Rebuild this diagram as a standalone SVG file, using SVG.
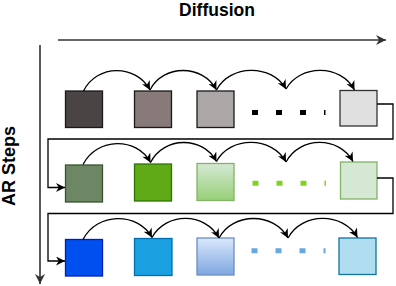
<svg xmlns="http://www.w3.org/2000/svg" width="396" height="286" viewBox="0 0 396 286">
<style>
.lbl{font-family:"Liberation Sans",Arial,sans-serif;font-weight:bold;font-size:18px;fill:#000}
.box{stroke-width:1.3}
.arc{fill:none;stroke:#000;stroke-width:1.3}
.dots{fill:none;stroke-width:5;stroke-dasharray:6 18}
</style>
<defs>
<marker id="ah" viewBox="0 0 10 10" refX="10" refY="5" markerWidth="10" markerHeight="9" orient="auto" markerUnits="userSpaceOnUse">
<path d="M0,0 L10,5 L0,10 L3,5 Z" fill="#000"/>
</marker>
<marker id="ahg" viewBox="0 0 10 10" refX="10" refY="5" markerWidth="11" markerHeight="10" orient="auto" markerUnits="userSpaceOnUse">
<path d="M0,0 L10,5 L0,10 L3,5 Z" fill="#333"/>
</marker>
<linearGradient id="gGreen" x1="0" y1="0" x2="0" y2="1">
<stop offset="0" stop-color="#d5e8d4"/>
<stop offset="1" stop-color="#97d077"/>
</linearGradient>
<linearGradient id="gBlue" x1="0" y1="0" x2="0" y2="1">
<stop offset="0" stop-color="#dae8fc"/>
<stop offset="1" stop-color="#7ea6e0"/>
</linearGradient>
</defs>

<text class="lbl" x="217" y="16" text-anchor="middle" style="font-size:17.5px">Diffusion</text>
<text class="lbl" transform="translate(15,166) rotate(-90)" text-anchor="middle">AR Steps</text>

<g id="axes">
<line x1="58" y1="40" x2="386" y2="40" stroke="#333" stroke-width="1.3" marker-end="url(#ahg)"/>
<line x1="40" y1="45" x2="40" y2="284" stroke="#000" stroke-width="1.3" marker-end="url(#ahg)"/>
</g>

<g id="r1c1"><rect class="box" x="65.5" y="91" width="37" height="36.5" fill="#4a4444" stroke="#1a1a1a"/></g>
<g id="r1c2"><rect class="box" x="134.5" y="91" width="37" height="36.5" fill="#877a78" stroke="#1a1a1a"/></g>
<g id="r1c3"><rect class="box" x="197" y="91" width="37" height="36.5" fill="#aba7a6" stroke="#1a1a1a"/></g>
<g id="r1dots"><line class="dots" x1="252" y1="112.5" x2="325.5" y2="112.5" stroke="#000"/></g>
<g id="r1c4"><rect class="box" x="340" y="90.5" width="37" height="35.5" fill="#e0e0e0" stroke="#333"/></g>

<g id="r2c1"><rect class="box" x="65.5" y="165" width="37" height="37" fill="#6d8764" stroke="#3a5431"/></g>
<g id="r2c2"><rect class="box" x="134.5" y="164" width="37" height="37" fill="#60a917" stroke="#2d7600"/></g>
<g id="r2c3"><rect class="box" x="197" y="163.5" width="37" height="37" fill="url(#gGreen)" stroke="#82b366"/></g>
<g id="r2dots"><line class="dots" x1="252.5" y1="183.3" x2="326" y2="183.3" stroke="#7ed321"/></g>
<g id="r2c4"><rect class="box" x="340.5" y="162" width="36.5" height="37" fill="#d5e8d4" stroke="#82b366"/></g>

<g id="r3c1"><rect class="box" x="65.5" y="239.5" width="37" height="36.5" fill="#0050ef" stroke="#001dbc"/></g>
<g id="r3c2"><rect class="box" x="134.5" y="238.5" width="37.5" height="37" fill="#1ba1e2" stroke="#006eaf"/></g>
<g id="r3c3"><rect class="box" x="197" y="238" width="37" height="37" fill="url(#gBlue)" stroke="#6c8ebf"/></g>
<g id="r3dots"><line class="dots" x1="251.5" y1="250.8" x2="325.5" y2="250.8" stroke="#66a8e2"/></g>
<g id="r3c4"><rect class="box" x="339" y="238" width="37" height="36.5" fill="#b1ddf0" stroke="#10739e"/></g>

<g id="connectors">
<path class="arc" d="M83.5,91 C97,64 136,64 150,90" marker-end="url(#ah)"/>
<path class="arc" d="M150,90 C163,64 203,64 216.5,90" marker-end="url(#ah)"/>
<path class="arc" d="M216.5,90 C230,64 272,64 286,89" marker-end="url(#ah)"/>
<path class="arc" d="M286,89 C300,64 341,64 354.5,90" marker-end="url(#ah)"/>

<path class="arc" d="M83,164.5 C97,137 137,137 150.5,162.5" marker-end="url(#ah)"/>
<path class="arc" d="M150.5,162.5 C164,136 203,136 216.5,161.5" marker-end="url(#ah)"/>
<path class="arc" d="M216.5,161.5 C230,136 272,136 286,162" marker-end="url(#ah)"/>
<path class="arc" d="M286,162 C300,136 339,136 353,161.5" marker-end="url(#ah)"/>

<path class="arc" d="M83,239.5 C97,212 138,212 152,237.5" marker-end="url(#ah)"/>
<path class="arc" d="M152,237.5 C166,212 205,212 219,238" marker-end="url(#ah)"/>
<path class="arc" d="M219,238 C233,212 274,212 288,238" marker-end="url(#ah)"/>
<path class="arc" d="M288,238 C302,212 343,212 357.5,237.5" marker-end="url(#ah)"/>

<path class="arc" d="M377,104 H393 V139 H48 V187.5 H65" marker-end="url(#ah)"/>
<path class="arc" d="M377,178 H393 V213.5 H48 V261 H65" marker-end="url(#ah)"/>
</g>
</svg>
